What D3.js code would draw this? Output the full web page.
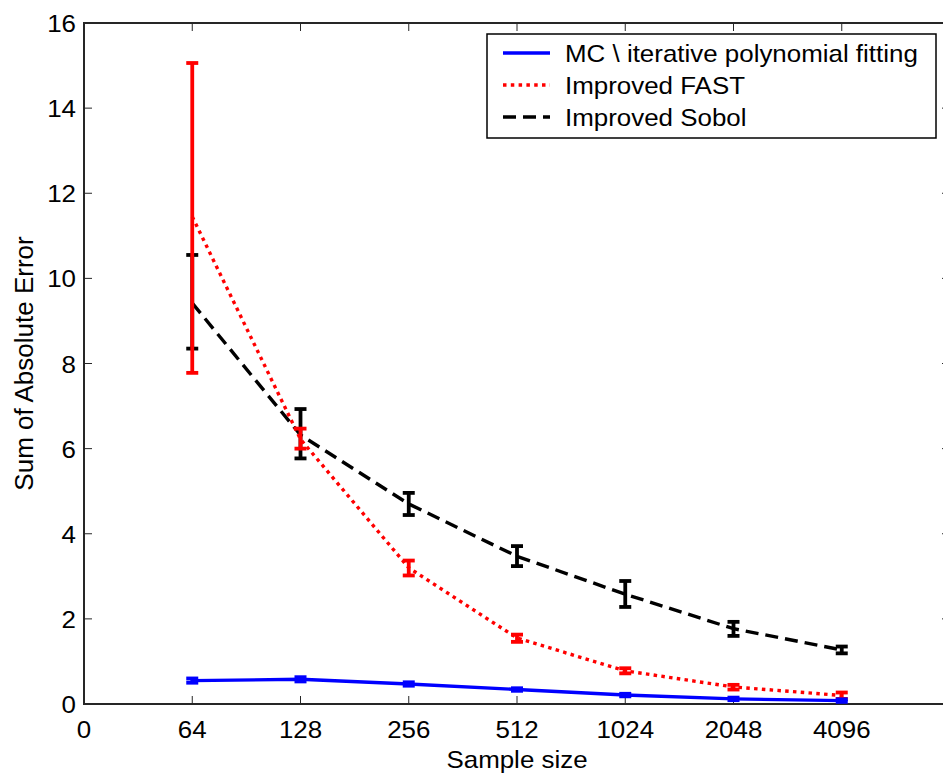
<!DOCTYPE html>
<html>
<head>
<meta charset="utf-8">
<script src="https://cdn.jsdelivr.net/npm/d3@7"></script>
<style>
html,body{margin:0;padding:0;background:#fff;}
svg{display:block;font-family:"Liberation Sans",Arial,sans-serif;}
</style>
</head>
<body>
<svg id="chart" width="943" height="778"></svg>
<script>
// ---- data ----
const xLabels = ["0","64","128","256","512","1024","2048","4096"];
const sampleIdx = [1,2,3,4,5,6,7];
const yTicks = [0,2,4,6,8,10,12,14,16];

const seriesNames = ["MC \\ iterative polynomial fitting","Improved FAST","Improved Sobol"];
const mcMean  = [0.55,0.58,0.47,0.34,0.21,0.12,0.08];
const mcLow   = [0.50,0.53,0.43,0.31,0.18,0.09,0.05];
const mcHigh  = [0.60,0.63,0.51,0.37,0.24,0.15,0.11];

const fastMean = [11.45,6.22,3.20,1.55,0.78,0.40,0.20];
const fastLow  = [7.78,6.00,3.02,1.46,0.72,0.34,0.12];
const fastHigh = [15.06,6.47,3.37,1.63,0.84,0.45,0.27];

const sobolMean = [9.42,6.32,4.70,3.47,2.58,1.77,1.27];
const sobolLow  = [8.35,5.77,4.44,3.24,2.28,1.60,1.19];
const sobolHigh = [10.55,6.93,4.96,3.71,2.89,1.93,1.35];

const colors = ["#0000ff","#ff0000","#000000"];
const dashes = [null,"3.5,4.3","13,7"];

// ---- layout ----
const svg = d3.select("#chart");
const x = d3.scaleLinear().domain([0,8]).range([84,950]);
const y = d3.scaleLinear().domain([0,16]).range([704,23]);
const axisColor = "#262626";
const fs = 24, sx = 1.08;

function label(parent, px, py, txt, anchor){
  return parent.append("text")
    .attr("transform",`translate(${px},${py}) scale(${sx},1)`)
    .attr("text-anchor",anchor||"start").attr("font-size",fs).attr("fill","#000").text(txt);
}

const g = svg.append("g");
g.append("rect").attr("x",x(0)).attr("y",y(16)).attr("width",x(8)-x(0)).attr("height",y(0)-y(16))
 .attr("fill","none").attr("stroke",axisColor).attr("stroke-width",2);

xLabels.forEach((lab,i)=>{
  g.append("line").attr("x1",x(i)).attr("x2",x(i)).attr("y1",y(0)).attr("y2",y(0)-8)
   .attr("stroke",axisColor).attr("stroke-width",1);
  g.append("line").attr("x1",x(i)).attr("x2",x(i)).attr("y1",y(16)).attr("y2",y(16)+8)
   .attr("stroke",axisColor).attr("stroke-width",1);
  label(g, x(i), 738, lab, "middle");
});
yTicks.forEach(v=>{
  g.append("line").attr("x1",x(0)).attr("x2",x(0)+8).attr("y1",y(v)).attr("y2",y(v))
   .attr("stroke",axisColor).attr("stroke-width",1);
  g.append("line").attr("x1",x(8)).attr("x2",x(8)-8).attr("y1",y(v)).attr("y2",y(v))
   .attr("stroke",axisColor).attr("stroke-width",1);
  label(g, x(0)-8, y(v)+9, String(v), "end");
});

label(svg, (x(0)+x(8))/2, 768, "Sample size", "middle");
svg.append("text").attr("transform",`translate(33,${(y(0)+y(16))/2}) rotate(-90)`)
  .attr("text-anchor","middle").attr("font-size",26).attr("fill","#000").text("Sum of Absolute Error");

const series = [
  {mean:mcMean, low:mcLow, high:mcHigh},
  {mean:fastMean, low:fastLow, high:fastHigh},
  {mean:sobolMean, low:sobolLow, high:sobolHigh}
];
const line = d3.line().x(d=>x(d[0])).y(d=>y(d[1]));
[2,1,0].forEach(si=>{
  const s = series[si];
  const pts = sampleIdx.map((xi,k)=>[xi,s.mean[k]]);
  const p = svg.append("path").attr("d",line(pts)).attr("fill","none")
    .attr("stroke",colors[si]).attr("stroke-width",3.4);
  if(dashes[si]) p.attr("stroke-dasharray",dashes[si]);
  const eb = svg.append("g").attr("stroke",colors[si]).attr("stroke-width",3.8);
  sampleIdx.forEach((xi,k)=>{
    const cx = x(xi), y1 = y(s.low[k]), y2 = y(s.high[k]);
    eb.append("line").attr("x1",cx).attr("x2",cx).attr("y1",y1).attr("y2",y2);
    eb.append("line").attr("x1",cx-6).attr("x2",cx+6).attr("y1",y1).attr("y2",y1);
    eb.append("line").attr("x1",cx-6).attr("x2",cx+6).attr("y1",y2).attr("y2",y2);
  });
});

const lg = svg.append("g");
lg.append("rect").attr("x",487).attr("y",34).attr("width",449).attr("height",104)
  .attr("fill","#fff").attr("stroke","#000").attr("stroke-width",1.5);
seriesNames.forEach((name,i)=>{
  const ly = 53 + i*32;
  const l = lg.append("line").attr("x1",503).attr("x2",550).attr("y1",ly).attr("y2",ly)
    .attr("stroke",colors[i]).attr("stroke-width",3.4);
  if(dashes[i]) l.attr("stroke-dasharray",dashes[i]);
  label(lg, 565, ly+9, name, "start");
});
</script>
</body>
</html>
